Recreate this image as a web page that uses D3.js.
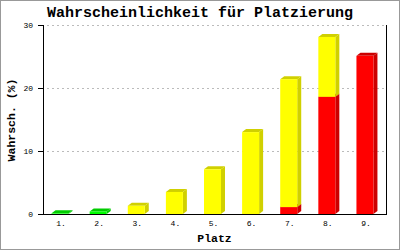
<html>
<head>
  <meta charset="utf-8">
  <script src="https://cdn.jsdelivr.net/npm/d3@7"></script>
  <style>
    html, body { margin:0; padding:0; background:#fff; }
    text { font-family: "Liberation Mono", "DejaVu Sans Mono", monospace; fill:#000; }
  </style>
</head>
<body>
<svg width="400" height="250"></svg>
<script>
  const places = ["1.", "2.", "3.", "4.", "5.", "6.", "7.", "8.", "9."];
  const green  = [0.1, 0.4, 0, 0, 0, 0, 0, 0, 0];
  const yellow = [0, 0, 1.3, 3.5, 7.1, 13.0, 20.3, 9.5, 0];
  const red    = [0, 0, 0, 0, 0, 0, 1.1, 18.6, 25.1];
  const yTicks = [0, 10, 20, 30];

  const series = [
    {key: "red", values: red, front: "#ff0000", side: "#cc0000"},
    {key: "yellow", values: yellow, front: "#ffff00", side: "#d0d000"},
    {key: "green", values: green, front: "#00ff00", side: "#00cc00"}
  ];

  const svg = d3.select("svg");
  const plotL = 43, plotR = 386, plotT = 25, plotB = 214;
  const barW = 17, dx = 4, dy = -3;

  svg.append("rect")
    .attr("x", 0.5).attr("y", 0.5).attr("width", 399).attr("height", 249)
    .attr("fill", "none").attr("stroke", "#999");

  const x = d3.scaleBand().domain(places).range([plotL, plotR]).padding(0);
  const y = d3.scaleLinear().domain([0, 30]).range([plotB, plotT]);

  // gridlines
  svg.selectAll("line.grid")
    .data(yTicks.filter(t => t > 0))
    .enter().append("line")
    .attr("class", "grid")
    .attr("x1", plotL + 4).attr("x2", plotR)
    .attr("y1", d => y(d) + 0.5).attr("y2", d => y(d) + 0.5)
    .attr("stroke", "#bbb").attr("stroke-dasharray", "2,3");

  // stacked bars with a bit of depth
  const stack = places.map(() => 0);
  const segs = [];
  series.forEach(s => {
    s.values.forEach((v, i) => {
      if (v <= 0) return;
      segs.push({i: i, y0: stack[i], y1: stack[i] + v, s: s});
      stack[i] += v;
    });
  });
  segs.sort((a, b) => a.y0 - b.y0);

  const g = svg.append("g");
  segs.forEach(d => {
    const x0 = x(places[d.i]) + (x.step() - barW - dx) / 2;
    const x1 = x0 + barW;
    const yt = y(d.y1), yb = y(d.y0);
    g.append("polygon")
      .attr("points", [[x1, yt], [x1 + dx, yt + dy], [x1 + dx, yb + dy], [x1, yb]].join(" "))
      .attr("fill", d.s.side);
    g.append("polygon")
      .attr("points", [[x0, yt], [x0 + dx, yt + dy], [x1 + dx, yt + dy], [x1, yt]].join(" "))
      .attr("fill", d.s.side);
    g.append("rect")
      .attr("x", x0).attr("y", yt)
      .attr("width", barW).attr("height", yb - yt)
      .attr("fill", d.s.front);
  });

  // axes
  svg.append("line")
    .attr("x1", plotL + 0.5).attr("x2", plotL + 0.5).attr("y1", plotT).attr("y2", plotB + 1)
    .attr("stroke", "#000");
  svg.append("line")
    .attr("x1", plotR + 0.5).attr("x2", plotR + 0.5).attr("y1", plotT).attr("y2", plotB + 1)
    .attr("stroke", "#000");
  svg.append("line")
    .attr("x1", plotL).attr("x2", plotR + 1).attr("y1", plotB + 0.5).attr("y2", plotB + 0.5)
    .attr("stroke", "#000");

  svg.selectAll("line.tick")
    .data(yTicks)
    .enter().append("line")
    .attr("class", "tick")
    .attr("x1", plotL - 5).attr("x2", plotL)
    .attr("y1", d => y(d) + 0.5).attr("y2", d => y(d) + 0.5)
    .attr("stroke", "#000");

  svg.selectAll("text.ylab")
    .data(yTicks)
    .enter().append("text")
    .attr("class", "ylab")
    .attr("x", 33).attr("y", d => y(d) + 3)
    .attr("text-anchor", "end")
    .attr("font-size", 8)
    .text(d => d);

  svg.selectAll("text.xlab")
    .data(places)
    .enter().append("text")
    .attr("class", "xlab")
    .attr("x", d => x(d) + x.step() / 2 - 1)
    .attr("y", 226)
    .attr("text-anchor", "middle")
    .attr("font-size", 8)
    .text(d => d);

  svg.append("text")
    .attr("x", 200).attr("y", 17)
    .attr("text-anchor", "middle")
    .attr("font-size", 15).attr("font-weight", "bold")
    .text("Wahrscheinlichkeit für Platzierung");

  svg.append("text")
    .attr("x", (plotL + plotR) / 2).attr("y", 242)
    .attr("text-anchor", "middle")
    .attr("font-size", 11.5).attr("font-weight", "bold")
    .text("Platz");

  svg.append("text")
    .attr("transform", "translate(14.5,120) rotate(-90)")
    .attr("text-anchor", "middle")
    .attr("font-size", 11.5).attr("font-weight", "bold")
    .text("Wahrsch. (%)");
</script>
</body>
</html>
